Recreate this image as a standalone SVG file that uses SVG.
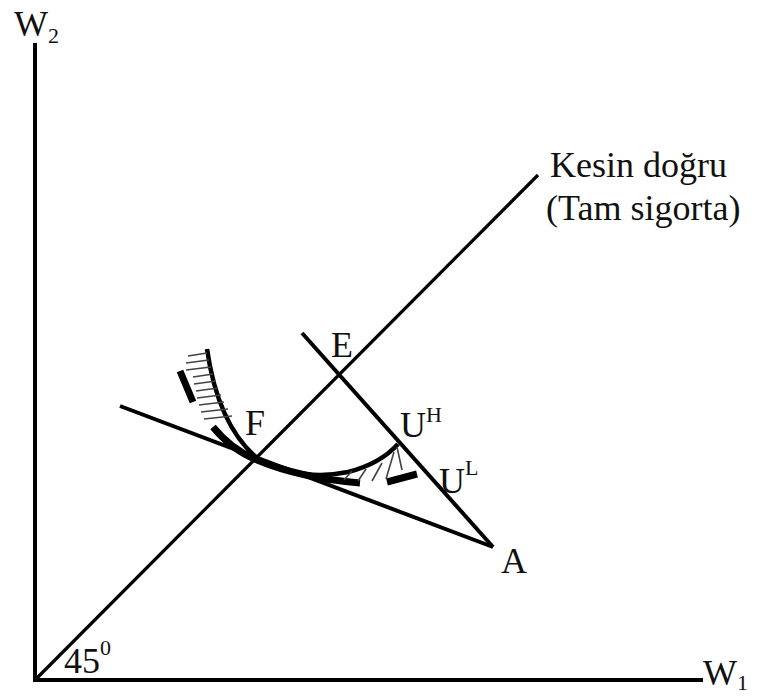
<svg xmlns="http://www.w3.org/2000/svg" width="773" height="698" viewBox="0 0 773 698">
<style>
.t{font-family:"Liberation Serif","Times New Roman",serif;fill:#111;font-size:36px;}
.sup{font-size:22px;}
.ln{stroke:#000;fill:none;stroke-linecap:butt;}
.hatch{stroke:#444;stroke-width:1.6;fill:none;}
</style>
<rect width="773" height="698" fill="#fff"/>
<g id="connectors">
<path class="ln" d="M35,43 V680 H703" stroke-width="4"/>
<path class="ln" d="M35,680 L538,175" stroke-width="3.2"/>
<path class="ln" d="M120,406 L493,547" stroke-width="4"/>
<path class="ln" d="M302,333 L493,547" stroke-width="4"/>
</g>
<g id="curve-UH">
<path class="ln" d="M207,349 Q218,425 257,458 Q300,482 348,472 Q380,464 398,444" stroke-width="4.5"/>
</g>
<g id="curve-UL">
<path class="ln" d="M180,371 L193,402" stroke-width="7"/>
<path class="ln" d="M213,427 Q232,450 257,460 Q300,478 360,483" stroke-width="7"/>
<path class="ln" d="M387,482 L417,474" stroke-width="7"/>
</g>
<g id="hatching">
<path class="hatch" d="M188,356 L207,353 M186,363 L209,360 M186,370 L211,367 M193,377 L213,374 M194,384 L216,381 M196,391 L218,388 M197,398 L221,395 M199,405 L224,402 M201,412 L228,409 M204,419 L232,416"/>
<path class="hatch" d="M344,480 L352,471 M358,481 L366,469 M372,481 L382,463 M386,479 L394,452 M397,447 L402,470"/>
</g>
<g id="label-W2"><text class="t" x="14" y="36">W<tspan class="sup" dy="7">2</tspan></text></g>
<g id="label-W1"><text class="t" x="703" y="685">W<tspan class="sup" dy="5">1</tspan></text></g>
<g id="label-line"><text class="t" x="550" y="177">Kesin doğru</text><text class="t" x="546" y="220">(Tam sigorta)</text></g>
<g id="label-E"><text class="t" x="331" y="357">E</text></g>
<g id="label-F"><text class="t" x="245" y="435">F</text></g>
<g id="label-UH"><text class="t" x="400" y="437">U<tspan class="sup" dy="-15">H</tspan></text></g>
<g id="label-UL"><text class="t" x="439" y="493">U<tspan class="sup" dy="-18">L</tspan></text></g>
<g id="label-A"><text class="t" x="501" y="573">A</text></g>
<g id="label-45"><text class="t" x="64" y="673">45<tspan class="sup" dy="-18">0</tspan></text></g>
</svg>
